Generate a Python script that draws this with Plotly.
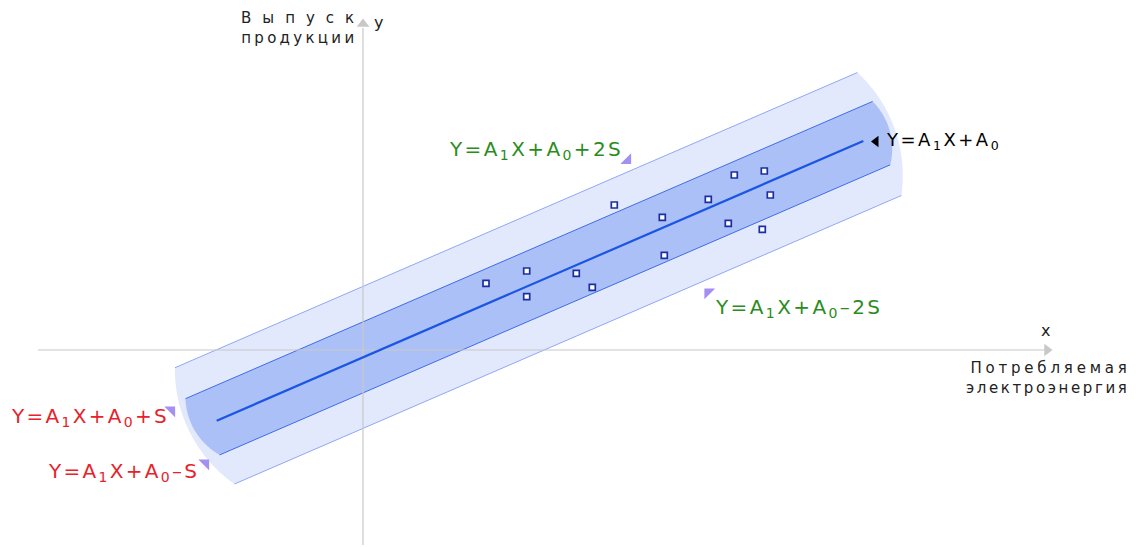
import numpy as np
import plotly.graph_objects as go

# Regression model (slope, intercept) and standard error of estimate
A1 = 0.4326
A0 = -0.74
S = 3.55

# Observed points: consumed electricity (x) vs. production output (y)
x_obs = [12.3, 16.37, 16.37, 21.33, 22.93, 25.13, 29.93, 30.13, 34.53, 36.53, 37.13, 40.13, 40.73, 39.93]
y_obs = [6.67, 7.9, 5.33, 7.67, 6.27, 14.5, 13.27, 9.47, 15.07, 12.67, 17.5, 17.9, 15.5, 12.07]

# Extent of the fitted line
x_fit = [-14.63, 50.03]

# Geometry of the rounded band ends, in the frame of the fitted line
# (u along the line from its middle, v across it)
MID_X = 17.9
CAP_V = 0.8
CAPS = {"outer": (24.4, 14.0), "inner": (31.2, 6.7)}  # (centre offset along u, radius)

OUTER_FILL = "#e3e9fc"
INNER_FILL = "#abc0f7"
OUTER_EDGE = "#8ea8f3"
INNER_EDGE = "#3d6ce9"
LINE_COLOR = "#1a55e6"
AXIS_COLOR = "#c8c8c8"
TRI_COLOR = "#a48ff2"
GREEN = "#2b8c1e"
RED = "#e6222a"

theta = np.arctan(A1)
cos_t, sin_t = np.cos(theta), np.sin(theta)
mid_y = A1 * MID_X + A0


def to_xy(u, v):
    u = np.asarray(u, float)
    v = np.asarray(v, float)
    return MID_X + u * cos_t - v * sin_t, mid_y + u * sin_t + v * cos_t


def band(width, cap):
    """Polygon of the band y = A1*x + A0 +/- width with rounded ends."""
    w = width * cos_t          # half-width measured across the line
    uc, r = cap
    vs = np.linspace(w, -w, 50)
    du = np.sqrt(r ** 2 - (vs - CAP_V) ** 2)
    u_right = uc + du
    u_left = -(uc + du)
    u = np.concatenate([u_right, u_left[::-1]])
    v = np.concatenate([vs, vs[::-1]])
    xs, ys = to_xy(u, v)
    top = to_xy([u_left[0], u_right[0]], [w, w])
    bot = to_xy([u_left[-1], u_right[-1]], [-w, -w])
    return list(xs) + [xs[0]], list(ys) + [ys[0]], top, bot


fig = go.Figure()

for width, cap, fill, edge in [(2 * S, CAPS["outer"], OUTER_FILL, OUTER_EDGE),
                               (S, CAPS["inner"], INNER_FILL, INNER_EDGE)]:
    xs, ys, top, bot = band(width, cap)
    fig.add_trace(go.Scatter(x=xs, y=ys, fill="toself", fillcolor=fill, mode="none", hoverinfo="skip"))
    for seg in (top, bot):
        fig.add_trace(go.Scatter(x=list(seg[0]), y=list(seg[1]), mode="lines",
                                 line=dict(color=edge, width=1), hoverinfo="skip"))

# Axes with arrowheads
fig.add_trace(go.Scatter(x=[-32.5, 68.2], y=[0, 0], mode="lines", line=dict(color=AXIS_COLOR, width=1.2), hoverinfo="skip"))
fig.add_trace(go.Scatter(x=[0, 0], y=[-19.5, 32.2], mode="lines", line=dict(color=AXIS_COLOR, width=1.2), hoverinfo="skip"))
fig.add_trace(go.Scatter(x=[68.4], y=[0], mode="markers",
                         marker=dict(symbol="triangle-right", size=11, color=AXIS_COLOR), hoverinfo="skip"))
fig.add_trace(go.Scatter(x=[0], y=[32.6], mode="markers",
                         marker=dict(symbol="triangle-up", size=11, color=AXIS_COLOR), hoverinfo="skip"))

# Fitted regression line
y_fit = [A1 * v + A0 for v in x_fit]
fig.add_trace(go.Scatter(x=x_fit, y=y_fit, mode="lines", line=dict(color=LINE_COLOR, width=2.2), hoverinfo="skip"))

# Observations
fig.add_trace(go.Scatter(x=x_obs, y=y_obs, mode="markers",
                         marker=dict(symbol="square", size=6, color="white",
                                     line=dict(color="#1b2f9e", width=1.7))))

# Pointer triangles next to the formulas
tri_x = [26.45, 34.5, -19.15, -15.75]
tri_y = [18.95, 5.8, -6.0, -11.3]
tri_sym = ["triangle-se", "triangle-nw", "triangle-ne", "triangle-ne"]
fig.add_trace(go.Scatter(x=tri_x, y=tri_y, mode="markers",
                         marker=dict(symbol=tri_sym, size=12, color=TRI_COLOR), hoverinfo="skip"))
fig.add_trace(go.Scatter(x=[51.3], y=[20.85], mode="markers",
                         marker=dict(symbol="triangle-left", size=10, color="black"), hoverinfo="skip"))

FONT = "DejaVu Sans"


def spaced(text, px):
    return f'<span style="letter-spacing:{px}px">{text}</span>'


formula_base = "Y=A<sub>1</sub>X+A<sub>0</sub>"
labels = [
    (8.4, 20.0, formula_base + "+2S", GREEN, 20, 2.4),
    (35.0, 4.2, formula_base + "\u20132S", GREEN, 20, 2.4),
    (-35.4, -6.7, formula_base + "+S", RED, 20, 2.3),
    (-31.7, -12.2, formula_base + "\u2013S", RED, 20, 2.3),
    (52.1, 20.9, formula_base, "black", 18, 2.5),
]
for x, y, t, col, size, sp in labels:
    fig.add_annotation(x=x, y=y, xref="x", yref="y", text=spaced(t, sp), showarrow=False,
                       xanchor="left", yanchor="middle", font=dict(family=FONT, size=size, color=col))

fig.add_annotation(x=-0.7, y=32.2, xref="x", yref="y",
                   text=spaced("Выпус", 11) + "к<br>" + spaced("продукци", 3.3) + "и",
                   showarrow=False, xanchor="right", yanchor="middle", align="right",
                   font=dict(family=FONT, size=15, color="#222222"))
fig.add_annotation(x=0.9, y=32.8, xref="x", yref="y", text="y", showarrow=False,
                   xanchor="left", yanchor="middle", font=dict(family=FONT, size=16, color="#222222"))
fig.add_annotation(x=68.2, y=2.0, xref="x", yref="y", text="x", showarrow=False,
                   xanchor="center", yanchor="middle", font=dict(family=FONT, size=16, color="#222222"))
fig.add_annotation(x=76.6, y=-2.8, xref="x", yref="y",
                   text=spaced("Потребляема", 3.8) + "я<br>" + spaced("электроэнерги", 2.6) + "я",
                   showarrow=False, xanchor="right", yanchor="middle", align="right",
                   font=dict(family=FONT, size=15, color="#222222"))

fig.update_layout(
    width=1138, height=547,
    margin=dict(l=0, r=0, t=0, b=0),
    paper_bgcolor="white", plot_bgcolor="white",
    showlegend=False,
    xaxis=dict(range=[-36.3, 77.5], visible=False, fixedrange=True),
    yaxis=dict(range=[-19.7, 35.0], visible=False, fixedrange=True),
)

fig.write_html("out.html")
